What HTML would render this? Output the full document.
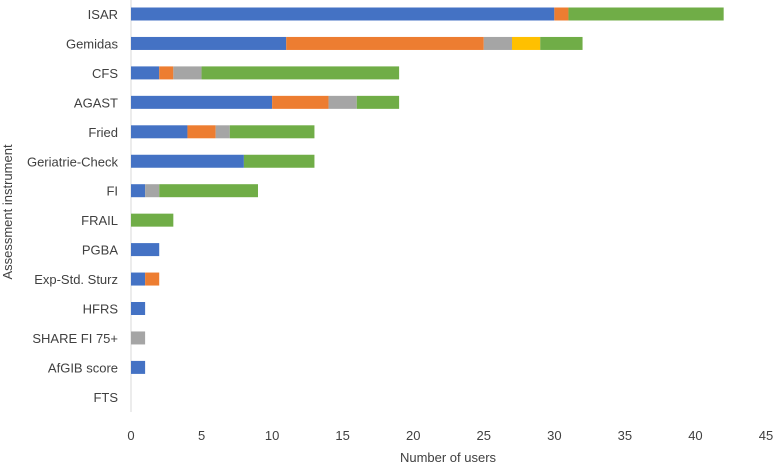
<!DOCTYPE html>
<html><head><meta charset="utf-8">
<style>
html,body{margin:0;padding:0;background:#fff;}
svg{display:block;font-family:"Liberation Sans",sans-serif;}
</style></head>
<body>
<svg id="chart" width="778" height="464">
  <text x="12" y="212" transform="rotate(-90 12 212)" text-anchor="middle" font-size="13" fill="#404040">Assessment instrument</text>
  <text x="448" y="462" text-anchor="middle" font-size="13" fill="#404040">Number of users</text>
</svg>
<script>
const categories = ["ISAR","Gemidas","CFS","AGAST","Fried","Geriatrie-Check","FI","FRAIL","PGBA","Exp-Std. Sturz","HFRS","SHARE FI 75+","AfGIB score","FTS"];
const blue   = [30,11,2,10,4,8,1,0,2,1,1,0,1,0];
const orange = [1,14,1,4,2,0,0,0,0,1,0,0,0,0];
const gray   = [0,2,2,2,1,0,1,0,0,0,0,1,0,0];
const yellow = [0,2,0,0,0,0,0,0,0,0,0,0,0,0];
const green  = [11,3,14,3,6,5,7,3,0,0,0,0,0,0];
const xTicks = [0,5,10,15,20,25,30,35,40,45];

const svg = document.getElementById('chart');
const NS = "http://www.w3.org/2000/svg";
const x0 = 131, x1 = 766, xMax = 45;
function xs(v){ return x0 + (x1 - x0) * v / xMax; }
const yTop = 14, step = 29.45, barH = 13;
function ys(i){ return yTop + i * step; }

const axis = document.createElementNS(NS,'line');
axis.setAttribute('x1',x0);axis.setAttribute('x2',x0);axis.setAttribute('y1',0);axis.setAttribute('y2',412);
axis.setAttribute('stroke','#d9d9d9');


svg.appendChild(axis);

xTicks.forEach(t=>{
  const tx = document.createElementNS(NS,'text');
  tx.setAttribute('x', xs(t)); tx.setAttribute('y', 440);
  tx.setAttribute('text-anchor','middle'); tx.setAttribute('font-size','13'); tx.setAttribute('fill','#404040');
  tx.textContent = t;
  
  
  svg.appendChild(tx);
});

const series = [[blue,'#4472C4','blue'],[orange,'#ED7D31','orange'],[gray,'#A5A5A5','gray'],[yellow,'#FFC000','yellow'],[green,'#70AD47','green']];
categories.forEach((c,i)=>{
  const lb = document.createElementNS(NS,'text');
  lb.setAttribute('x', 118); lb.setAttribute('y', ys(i)+5);
  lb.setAttribute('text-anchor','end'); lb.setAttribute('font-size','13'); lb.setAttribute('fill','#404040');
  lb.textContent = c;
  
  
  svg.appendChild(lb);
  let acc = 0;
  series.forEach(([arr,col,nm])=>{
    const v = arr[i];
    if(v>0){
      const r = document.createElementNS(NS,'rect');
      r.setAttribute('x', xs(acc)); r.setAttribute('width', xs(acc+v)-xs(acc));
      r.setAttribute('y', ys(i)-barH/2); r.setAttribute('height', barH);
      r.setAttribute('fill', col);
      
      
      svg.appendChild(r);
    }
    acc += v;
  });
});
</script>
</body></html>
